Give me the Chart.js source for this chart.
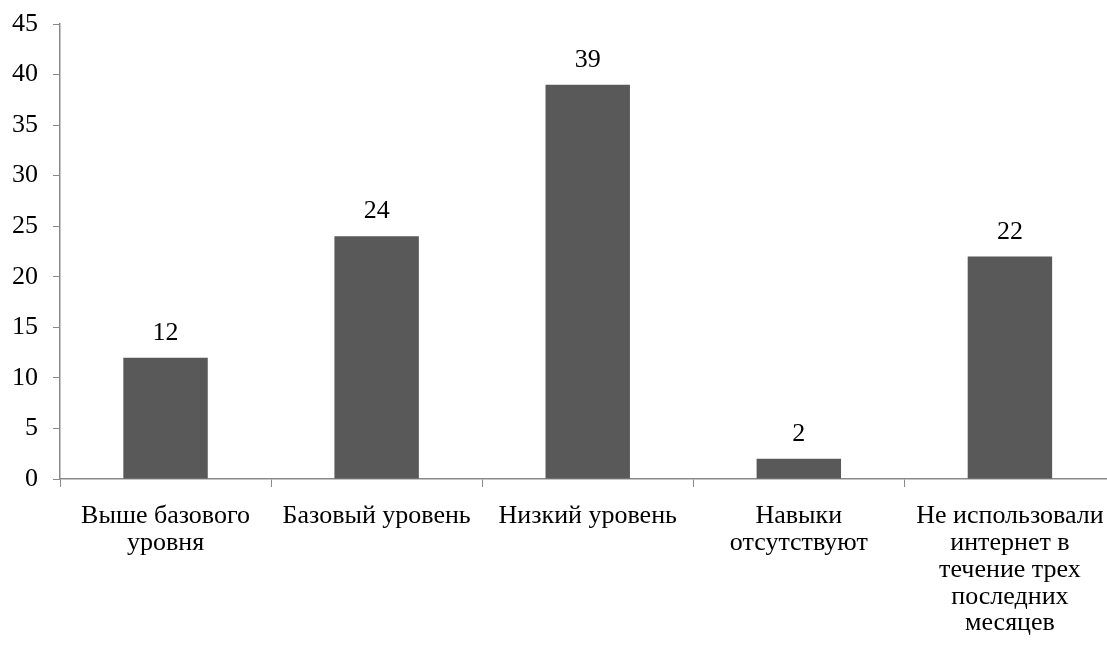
<!DOCTYPE html>
<html>
<head>
<meta charset="utf-8">
<script src="https://cdn.jsdelivr.net/npm/chart.js@4/dist/chart.umd.min.js"></script>
<style>
  html, body { margin:0; padding:0; background:#fff; overflow:hidden; }
  #wrap { width:1120px; height:645px; }
</style>
</head>
<body>
<div id="wrap"><canvas id="chart" width="1120" height="645"></canvas></div>
<script>
// chart data
const categories = [
  ['Выше базового', 'уровня'],
  ['Базовый уровень'],
  ['Низкий уровень'],
  ['Навыки', 'отсутствуют'],
  ['Не использовали', 'интернет в', 'течение трех', 'последних', 'месяцев']
];
const values = [12, 24, 39, 2, 22];
const yTicks = [0, 5, 10, 15, 20, 25, 30, 35, 40, 45];

const FONT = '"Liberation Serif", "Times New Roman", serif';
const axisColor = '#898989';

// value labels above bars
const valueLabels = {
  id: 'valueLabels',
  afterDatasetsDraw(chart){
    const ctx = chart.ctx;
    const meta = chart.getDatasetMeta(0);
    ctx.save();
    ctx.font = '26px ' + FONT;
    ctx.fillStyle = '#000';
    ctx.textAlign = 'center';
    ctx.textBaseline = 'alphabetic';
    meta.data.forEach((bar, i) => {
      ctx.fillText(String(values[i]), bar.x, bar.y - 18);
    });
    ctx.restore();
  }
};

new Chart(document.getElementById('chart').getContext('2d'), {
  type: 'bar',
  data: {
    labels: categories,
    datasets: [{
      data: values,
      backgroundColor: '#595959',
      borderWidth: 0,
      categoryPercentage: 1,
      barPercentage: 0.4
    }]
  },
  options: {
    responsive: false,
    animation: false,
    layout: { padding: { top: 24, right: 4, left: 0, bottom: 0 } },
    plugins: { legend: { display: false }, tooltip: { enabled: false } },
    scales: {
      x: {
        grid: { display: true, offset: true, drawOnChartArea: false, color: axisColor, tickLength: 8 },
        border: { display: true, color: axisColor, width: 1.5 },
        ticks: { color: '#000', font: { family: FONT, size: 26, lineHeight: 1.03 }, padding: 16, maxRotation: 0, autoSkip: false },
        afterFit(scale){ scale.height = 166; }
      },
      y: {
        min: 0, max: 45,
        afterBuildTicks(scale){ scale.ticks = yTicks.map(v => ({ value: v })); },
        grid: { display: true, drawOnChartArea: false, color: axisColor, tickLength: 7 },
        border: { display: true, color: axisColor, width: 1.5 },
        ticks: { color: '#000', font: { family: FONT, size: 26, lineHeight: 1.0 }, padding: 15 },
        afterFit(scale){ scale.width = 60; scale.paddingTop = 14; scale.paddingBottom = 14; }
      }
    }
  },
  plugins: [valueLabels]
});
</script>
</body>
</html>
